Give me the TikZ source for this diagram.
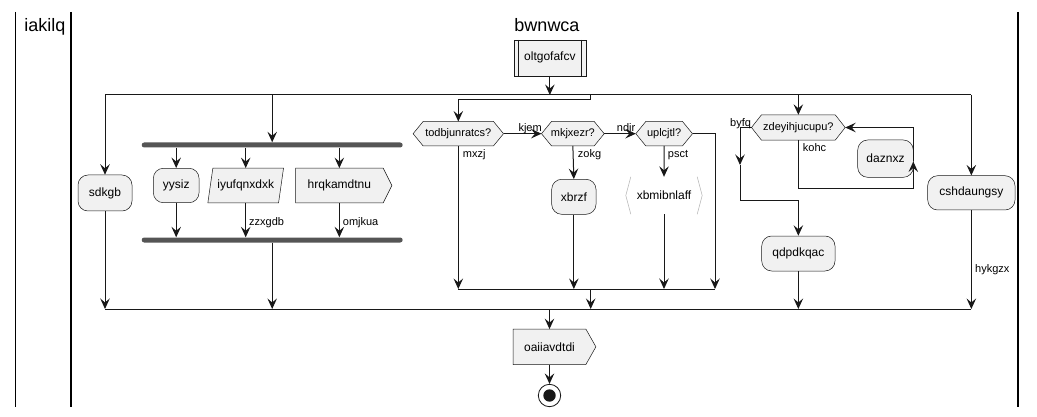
\documentclass[tikz,border=0pt]{standalone}
\usepackage{fontspec}
\setmainfont{Liberation Sans}
\usetikzlibrary{arrows.meta,calc}
\definecolor{lineC}{HTML}{181818}
\definecolor{boxC}{HTML}{F1F1F1}
\definecolor{barC}{HTML}{555555}
\definecolor{brC}{HTML}{BBBBBB}
\pgfdeclarelayer{background}
\pgfsetlayers{background,main}
\newcommand\drawhex[1]{%
  \begin{pgfonlayer}{background}
  \draw[shp] ([xshift=10pt]#1.north west) -- ([xshift=-10pt]#1.north east) -- (#1.east)
    -- ([xshift=-10pt]#1.south east) -- ([xshift=10pt]#1.south west) -- (#1.west) -- cycle;
  \end{pgfonlayer}}
\newcommand\drawsignal[2]{%
  \begin{pgfonlayer}{background}
  \draw[shp] (#1.north west) -- (#1.north east) -- ([xshift=#2]#1.east)
    -- (#1.south east) -- (#1.south west) -- cycle;
  \end{pgfonlayer}}
\begin{document}
\begin{tikzpicture}[x=1pt,y=-1pt,
  conn/.style={draw=lineC, line width=1pt},
  arr/.style={conn, -{Stealth[length=10.5pt,width=9.5pt,inset=4pt]}},
  txt/.style={font=\fontsize{12}{14}\selectfont, text=black, inner sep=0pt},
  stxt/.style={font=\fontsize{11}{13}\selectfont, text=black, inner sep=0pt},
  lbl/.style={font=\fontsize{11}{13}\selectfont, text=black, inner sep=0pt, anchor=base west},
  rbox/.style={txt, draw=lineC, line width=0.5pt, fill=boxC, rounded corners=10pt},
  shp/.style={draw=lineC, line width=0.5pt, fill=boxC},
  bar/.style={fill=barC, draw=none, rounded corners=2.5pt, inner sep=0pt, minimum height=5pt, minimum width=261pt},
  lane/.style={draw=black, line width=1.8pt},
  title/.style={font=\fontsize{18}{21}\selectfont, anchor=base, inner sep=0pt}
]
\useasboundingbox (0,0) rectangle (1037,417);
% lanes
\draw[lane] (15.5,12) -- (15.5,407);
\draw[lane] (71,12) -- (71,407);
\draw[lane] (1018,12) -- (1018,407);
\node[title] (t1) at (45,31.7) {iakilq};
\node[title] (t2) at (547,31.7) {bwnwca};

% start box
\node[txt, minimum width=71.7pt, minimum height=35.7pt] (olt) at (549.85,57.85) {oltgofafcv};
\begin{pgfonlayer}{background}
\draw[shp] (olt.north west) rectangle (olt.south east);
\draw[draw=lineC, line width=0.5pt] ([xshift=4.7pt]olt.north west) -- ([xshift=4.7pt]olt.south west);
\draw[draw=lineC, line width=0.5pt] ([xshift=-4.7pt]olt.north east) -- ([xshift=-4.7pt]olt.south east);
\end{pgfonlayer}

% nodes
\node[rbox, minimum width=54pt, minimum height=36pt] (sdkgb) at (105,193) {sdkgb};
\node[bar] (fork) at (272.2,145) {};
\node[bar] (join) at (272.2,240) {};
\node[rbox, minimum width=45.7pt, minimum height=34.4pt] (yysiz) at (176.2,185.5) {yysiz};
\node[txt, minimum width=75.3pt, minimum height=34.4pt] (iyu) at (245.7,185.5) {iyufqnxdxk};
\begin{pgfonlayer}{background}
\draw[shp] ([xshift=5pt]iyu.north west) -- (iyu.north east) -- ([xshift=-5pt]iyu.south east) -- (iyu.south west) -- cycle;
\end{pgfonlayer}
\node[txt, minimum width=87.3pt, minimum height=34.4pt] (hrq) at (339.35,185.5) {hrqkamdtnu};
\drawsignal{hrq}{8.7pt}

\node[stxt, minimum width=90pt, minimum height=24pt] (d1) at (458.3,133.7) {todbjunratcs?};
\drawhex{d1}
\node[stxt, minimum width=62.3pt, minimum height=24pt] (d2) at (572.85,133.7) {mkjxezr?};
\drawhex{d2}
\node[stxt, minimum width=56.3pt, minimum height=24pt] (d3) at (664.15,133.7) {uplcjtl?};
\drawhex{d3}
\node[rbox, minimum width=44.3pt, minimum height=35pt] (xbrzf) at (573.85,196.8) {xbrzf};
\node[txt, minimum width=66pt, minimum height=37pt] (xbm) at (664,195.5) {xbmibnlaff};
\draw[draw=brC, line width=0.6pt] (xbm.north west) -- ([xshift=-5pt]xbm.west) -- (xbm.south west);
\draw[draw=brC, line width=0.6pt] (xbm.north east) -- ([xshift=5pt]xbm.east) -- (xbm.south east);

\node[stxt, minimum width=93.3pt, minimum height=25pt] (d4) at (798.35,127.5) {zdeyihjucupu?};
\drawhex{d4}
\node[rbox, minimum width=55.6pt, minimum height=37.3pt] (daz) at (885.5,158.65) {daznxz};
\node[rbox, minimum width=73.3pt, minimum height=35pt] (qdp) at (798.35,253.5) {qdpdkqac};
\node[rbox, minimum width=87.3pt, minimum height=34.3pt] (csh) at (971.35,192.85) {cshdaungsy};

\node[txt, minimum width=72.4pt, minimum height=35pt] (oai) at (549.5,346.8) {oaiiavdtdi};
\drawsignal{oai}{10pt}
\node[circle, draw=lineC, line width=0.8pt, fill=white, minimum size=22.4pt, inner sep=0pt] (endc) at (549.5,395.5) {};
\fill[lineC] (endc.center) circle (6.2pt);

% split
\coordinate (sIn) at (549.85,95);
\coordinate (sL) at (105,95);
\coordinate (sR) at (971.35,95);
\coordinate (sM) at (590.7,95);
\draw[conn] (sL) -- (sR);
\draw[arr] (olt.south) -- (sIn);
\draw[arr] (sL) -- (sdkgb.north);
\draw[arr] (fork.north |- sL) -- (fork.north);
\draw[arr] (sM) -- ++(0,5) -| (d1.north);
\draw[arr] (d4.north |- sL) -- (d4.north);
\draw[arr] (sR) -- (csh.north);

% fork/join
\draw[arr] (yysiz.north |- fork.south) -- (yysiz.north);
\draw[arr] (iyu.north |- fork.south) -- (iyu.north);
\draw[arr] (hrq.north |- fork.south) -- (hrq.north);
\draw[arr] (yysiz.south) -- (yysiz.south |- join.north);
\draw[arr] (iyu.south) -- (iyu.south |- join.north);
\draw[arr] (hrq.south) -- (hrq.south |- join.north);
\node[lbl] (l1) at (249,225.2) {zzxgdb};
\node[lbl] (l2) at (342.7,225.2) {omjkua};

% middle
\coordinate (m2L) at (458.3,289);
\coordinate (m2R) at (715,289);
\coordinate (m2o) at (590.7,289);
\draw[conn] (m2L) -- (m2R);
\draw[arr] (d1.east) -- (d2.west);
\draw[arr] (d2.east) -- (d3.west);
\draw[arr] (d1.south) -- (m2L);
\draw[arr] (d2.south) -- (xbrzf.north);
\draw[arr] (d3.south) -- (xbm.north);
\draw[arr] (xbrzf.south) -- (xbrzf.south |- m2L);
\draw[arr] (xbm.south) -- (xbm.south |- m2L);
\draw[arr] (d3.east) -| (m2R);
\node[lbl] (l3) at (518.3,131.2) {kjem};
\node[lbl] (l4) at (616.7,131.2) {ndir};
\node[lbl] (l5) at (462.7,157.2) {mxzj};
\node[lbl] (l6) at (577.7,157.2) {zokg};
\node[lbl] (l7) at (667.7,157.2) {psct};

% right loop
\coordinate (cL1) at (740,127.5);
\coordinate (cL2) at (740,165);
\coordinate (cL3) at (740,200.7);
\coordinate (cL4) at (798.35,200.7);
\draw[arr] (d4.west) -- (cL1) -- (cL2);
\draw[arr] (cL2) -- (cL3) -- (cL4) -- (qdp.north);
\coordinate (cR1) at (798.35,188.3);
\coordinate (cR2) at (913.3,188.3);
\coordinate (cR3) at (913.3,161.5);
\coordinate (cR4) at (913.3,127.5);
\draw[arr] (d4.south) -- (cR1) -- (cR2) -- (cR3);
\draw[arr] (cR3) -- (cR4) -- (d4.east);
\node[lbl] (l8) at (730,126.2) {byfq};
\node[lbl] (l9) at (802.7,151.9) {kohc};

% merge
\coordinate (mL) at (105,309);
\coordinate (mR) at (971.35,309);
\coordinate (mOut) at (549.5,309);
\draw[conn] (mL) -- (mR);
\draw[arr] (sdkgb.south) -- (mL);
\draw[arr] (join.south) -- (join.south |- mL);
\draw[arr] (m2o) -- (m2o |- mL);
\draw[arr] (qdp.south) -- (qdp.south |- mL);
\draw[arr] (csh.south) -- (mR);
\node[lbl] (l10) at (975,272.9) {hykgzx};
\draw[arr] (mOut) -- (oai.north);
\draw[arr] (oai.south) -- (endc.north);
\end{tikzpicture}
\end{document}
